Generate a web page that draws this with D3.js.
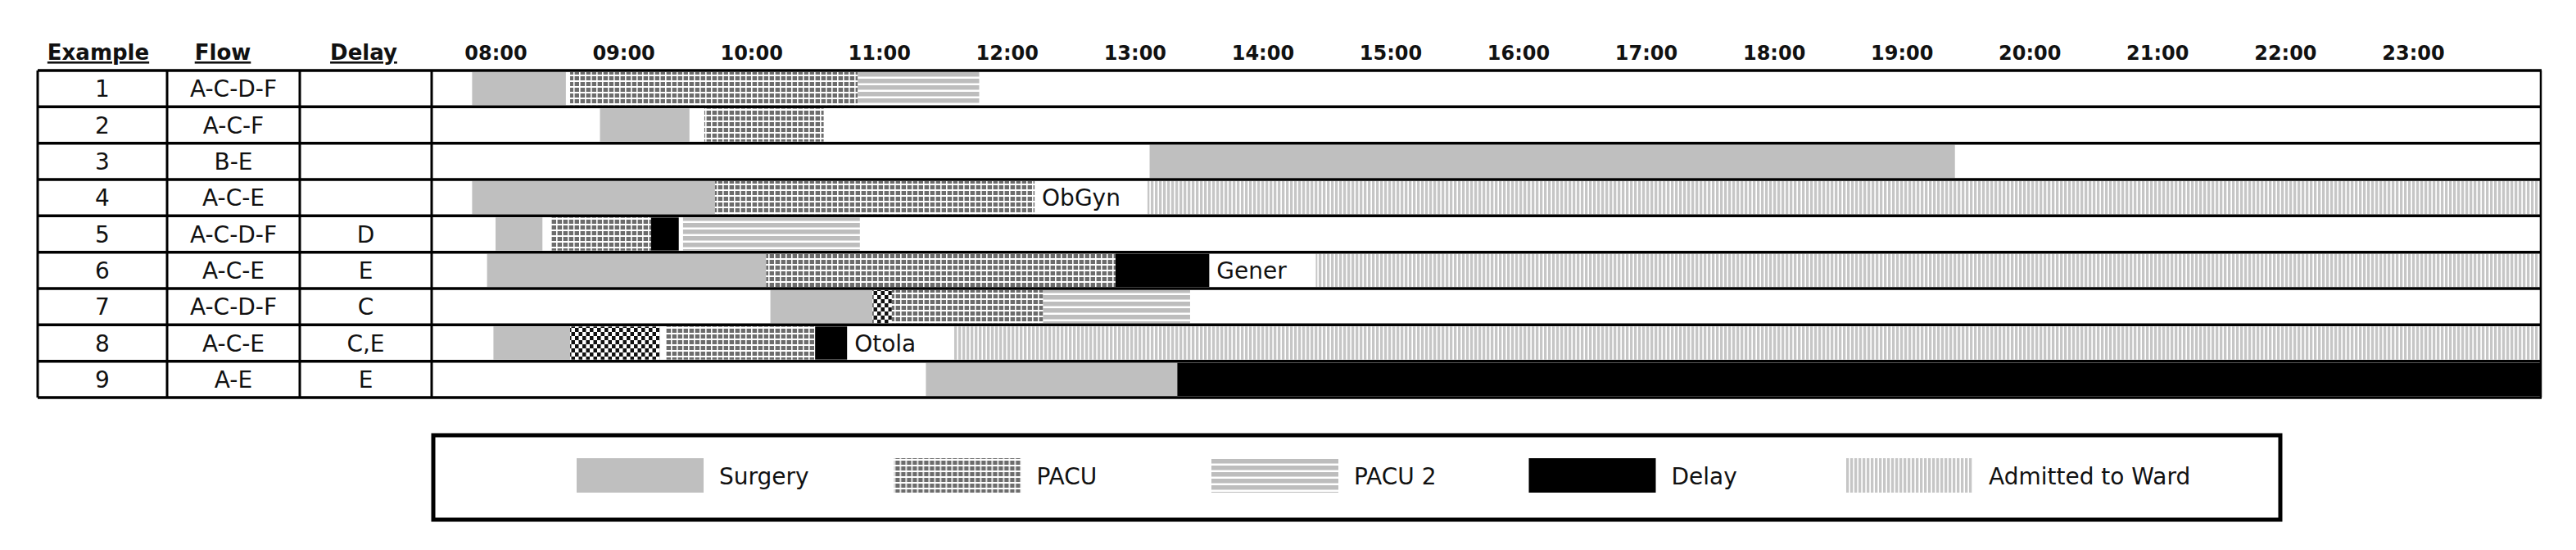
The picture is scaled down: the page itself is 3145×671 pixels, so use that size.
<!DOCTYPE html>
<html>
<head>
<meta charset="utf-8">
<script src="https://cdn.jsdelivr.net/npm/d3@7"></script>
<style>
  body { margin: 0; background: #fff; }
  text { font-family: "DejaVu Sans", sans-serif; fill: #111; }
</style>
</head>
<body>
<div id="container"></div>
<script>
// DATA
const examples = ["1", "2", "3", "4", "5", "6", "7", "8", "9"];
const flows = ["A-C-D-F", "A-C-F", "B-E", "A-C-E", "A-C-D-F", "A-C-E", "A-C-D-F", "A-C-E", "A-E"];
const delays = ["", "", "", "", "D", "E", "C", "C,E", "E"];
const hourTicks = [8, 9, 10, 11, 12, 13, 14, 15, 16, 17, 18, 19, 20, 21, 22, 23];
const hourLabels = ["08:00", "09:00", "10:00", "11:00", "12:00", "13:00", "14:00", "15:00",
                    "16:00", "17:00", "18:00", "19:00", "20:00", "21:00", "22:00", "23:00"];
const stages = ["Surgery", "PACU", "PACU 2", "Delay", "Admitted to Ward"];

// [example, stage, start, end]  ("hold" = delay inside PACU)
const segments = [
  ["1", "Surgery", "07:49", "08:33"], ["1", "PACU", "08:35", "10:50"], ["1", "PACU 2", "10:50", "11:47"],
  ["2", "Surgery", "08:49", "09:31"], ["2", "PACU", "09:38", "10:34"],
  ["3", "Surgery", "13:07", "19:25"],
  ["4", "Surgery", "07:49", "09:43"], ["4", "PACU", "09:43", "12:13"], ["4", "Admitted to Ward", "13:06", "24:00"],
  ["5", "Surgery", "08:00", "08:22"], ["5", "PACU", "08:26", "09:13"], ["5", "Delay", "09:13", "09:26"],
  ["5", "PACU 2", "09:28", "10:51"],
  ["6", "Surgery", "07:56", "10:07"], ["6", "PACU", "10:07", "12:51"], ["6", "Delay", "12:51", "13:35"],
  ["6", "Admitted to Ward", "14:25", "24:00"],
  ["7", "Surgery", "10:09", "10:57"], ["7", "hold", "10:57", "11:06"], ["7", "PACU", "11:06", "12:17"],
  ["7", "PACU 2", "12:17", "13:26"],
  ["8", "Surgery", "07:59", "08:35"], ["8", "hold", "08:35", "09:17"], ["8", "PACU", "09:20", "10:30"],
  ["8", "Delay", "10:30", "10:45"], ["8", "Admitted to Ward", "11:35", "24:00"],
  ["9", "Surgery", "11:22", "13:20"], ["9", "Delay", "13:20", "24:00"]
];

// [example, text, time]
const wardLabels = [["4", "ObGyn", "12:13"], ["6", "Gener", "13:35"], ["8", "Otola", "10:45"]];

// LAYOUT
const W = 3145, H = 671;
const table = {left: 46, c1: 204, c2: 366, c3: 527, right: 3102, top: 86, bottom: 485};
const bodyFont = "28px";

const hm = s => { const [h, m] = s.split(":"); return +h + m / 60; };

const svg = d3.select("#container").append("svg")
              .attr("width", W).attr("height", H);
svg.append("rect").attr("width", W).attr("height", H).attr("fill", "#fff");

// PATTERNS
const defs = svg.append("defs");
const pacu = defs.append("pattern").attr("id", "p-pacu").attr("patternUnits", "userSpaceOnUse")
                 .attr("width", 7).attr("height", 7);
pacu.append("rect").attr("width", 7).attr("height", 7).attr("fill", "#6c6c6c");
pacu.append("rect").attr("width", 1.6).attr("height", 7).attr("fill", "#fff");
pacu.append("rect").attr("width", 7).attr("height", 2).attr("fill", "#fff");

const pacu2 = defs.append("pattern").attr("id", "p-pacu2").attr("patternUnits", "userSpaceOnUse")
                  .attr("width", 8).attr("height", 8);
pacu2.append("rect").attr("width", 8).attr("height", 8).attr("fill", "#fff");
pacu2.append("rect").attr("width", 8).attr("height", 5.5).attr("fill", "#bdbdbd");

const ward = defs.append("pattern").attr("id", "p-ward").attr("patternUnits", "userSpaceOnUse")
                 .attr("width", 5).attr("height", 10);
ward.append("rect").attr("width", 5).attr("height", 10).attr("fill", "#fff");
ward.append("rect").attr("width", 3.3).attr("height", 10).attr("fill", "#c6c6c6");

const hold = defs.append("pattern").attr("id", "p-hold").attr("patternUnits", "userSpaceOnUse")
                 .attr("width", 9).attr("height", 10);
hold.append("rect").attr("width", 9).attr("height", 10).attr("fill", "#fff");
hold.append("rect").attr("width", 4.5).attr("height", 5).attr("fill", "#111");
hold.append("rect").attr("x", 4.5).attr("y", 5).attr("width", 4.5).attr("height", 5).attr("fill", "#111");

const fills = {
  "Surgery": "#bfbfbf",
  "PACU": "url(#p-pacu)",
  "PACU 2": "url(#p-pacu2)",
  "Delay": "#000",
  "Admitted to Ward": "url(#p-ward)",
  "hold": "url(#p-hold)"
};

// SCALES
const x = d3.scaleLinear().domain([7.5, 24]).range([table.c3, table.right]);
const y = d3.scaleBand().domain(examples).range([table.top, table.bottom]);

// BARS
svg.append("g").selectAll("rect")
   .data(segments).enter()
   .append("rect")
   .attr("x", d => x(hm(d[2])))
   .attr("width", d => x(hm(d[3])) - x(hm(d[2])))
   .attr("y", d => y(d[0]) + 2)
   .attr("height", y.bandwidth() - 4)
   .attr("fill", d => fills[d[1]]);

// department labels in front of ward
svg.append("g").selectAll("text")
   .data(wardLabels).enter()
   .append("text")
   .attr("x", d => x(hm(d[2])) + 9)
   .attr("y", d => y(d[0]) + y.bandwidth() / 2 + 10)
   .style("font-size", bodyFont)
   .text(d => d[1]);

// TIME AXIS
const axis = d3.axisTop(x).tickValues(hourTicks)
               .tickFormat((d, i) => hourLabels[i])
               .tickSize(0).tickPadding(0);
const ax = svg.append("g").attr("transform", "translate(0,73)").call(axis);
ax.select(".domain").remove();
ax.selectAll("text")
  .attr("dy", 0)
  .style("font-family", "'DejaVu Sans', sans-serif")
  .style("font-size", "24px")
  .style("font-weight", "bold")
  .attr("fill", "#111");

// TABLE HEADERS
const heads = [["Example", 120], ["Flow", 272], ["Delay", 444]];
svg.append("g").selectAll("text")
   .data(heads).enter()
   .append("text")
   .attr("x", d => d[1]).attr("y", 73)
   .attr("text-anchor", "middle")
   .style("font-size", "26px").style("font-weight", "bold")
   .style("text-decoration", "underline")
   .text(d => d[0]);

// TABLE CELLS
const cols = [[examples, (table.left + table.c1) / 2], [flows, (table.c1 + table.c2) / 2],
              [delays, (table.c2 + table.c3) / 2]];
cols.forEach(([vals, cx]) => {
  svg.append("g").selectAll("text")
     .data(vals).enter()
     .append("text")
     .attr("x", cx)
     .attr("y", (d, i) => y(examples[i]) + y.bandwidth() / 2 + 10)
     .attr("text-anchor", "middle")
     .style("font-size", bodyFont)
     .text(d => d);
});

// GRID LINES
const grid = svg.append("g").attr("stroke", "#000");
grid.selectAll("line.h")
    .data(examples.map(e => y(e)).concat([table.bottom])).enter()
    .append("line")
    .attr("x1", table.left).attr("x2", table.right + 1)
    .attr("y1", d => d).attr("y2", d => d)
    .attr("stroke-width", 3.5);
grid.selectAll("line.v")
    .data([table.left, table.c1, table.c2, table.c3]).enter()
    .append("line")
    .attr("x1", d => d).attr("x2", d => d)
    .attr("y1", table.top).attr("y2", table.bottom)
    .attr("stroke-width", 3);
grid.append("line")
    .attr("x1", table.right).attr("x2", table.right)
    .attr("y1", table.top).attr("y2", table.bottom)
    .attr("stroke-width", 2.5);

// LEGEND
const legend = svg.append("g");
legend.append("rect")
      .attr("x", 529).attr("y", 531).attr("width", 2255).attr("height", 103)
      .attr("fill", "none").attr("stroke", "#000").attr("stroke-width", 5);
const lx = d3.scalePoint().domain(stages).range([704, 2254]);
const item = legend.selectAll("g.item")
                   .data(stages).enter()
                   .append("g")
                   .attr("transform", d => `translate(${lx(d)},0)`);
item.append("rect")
    .attr("y", 559).attr("width", 155).attr("height", 42)
    .attr("fill", d => fills[d]);
item.append("text")
    .attr("x", 174).attr("y", 591)
    .style("font-size", bodyFont)
    .text(d => d);
</script>
</body>
</html>
